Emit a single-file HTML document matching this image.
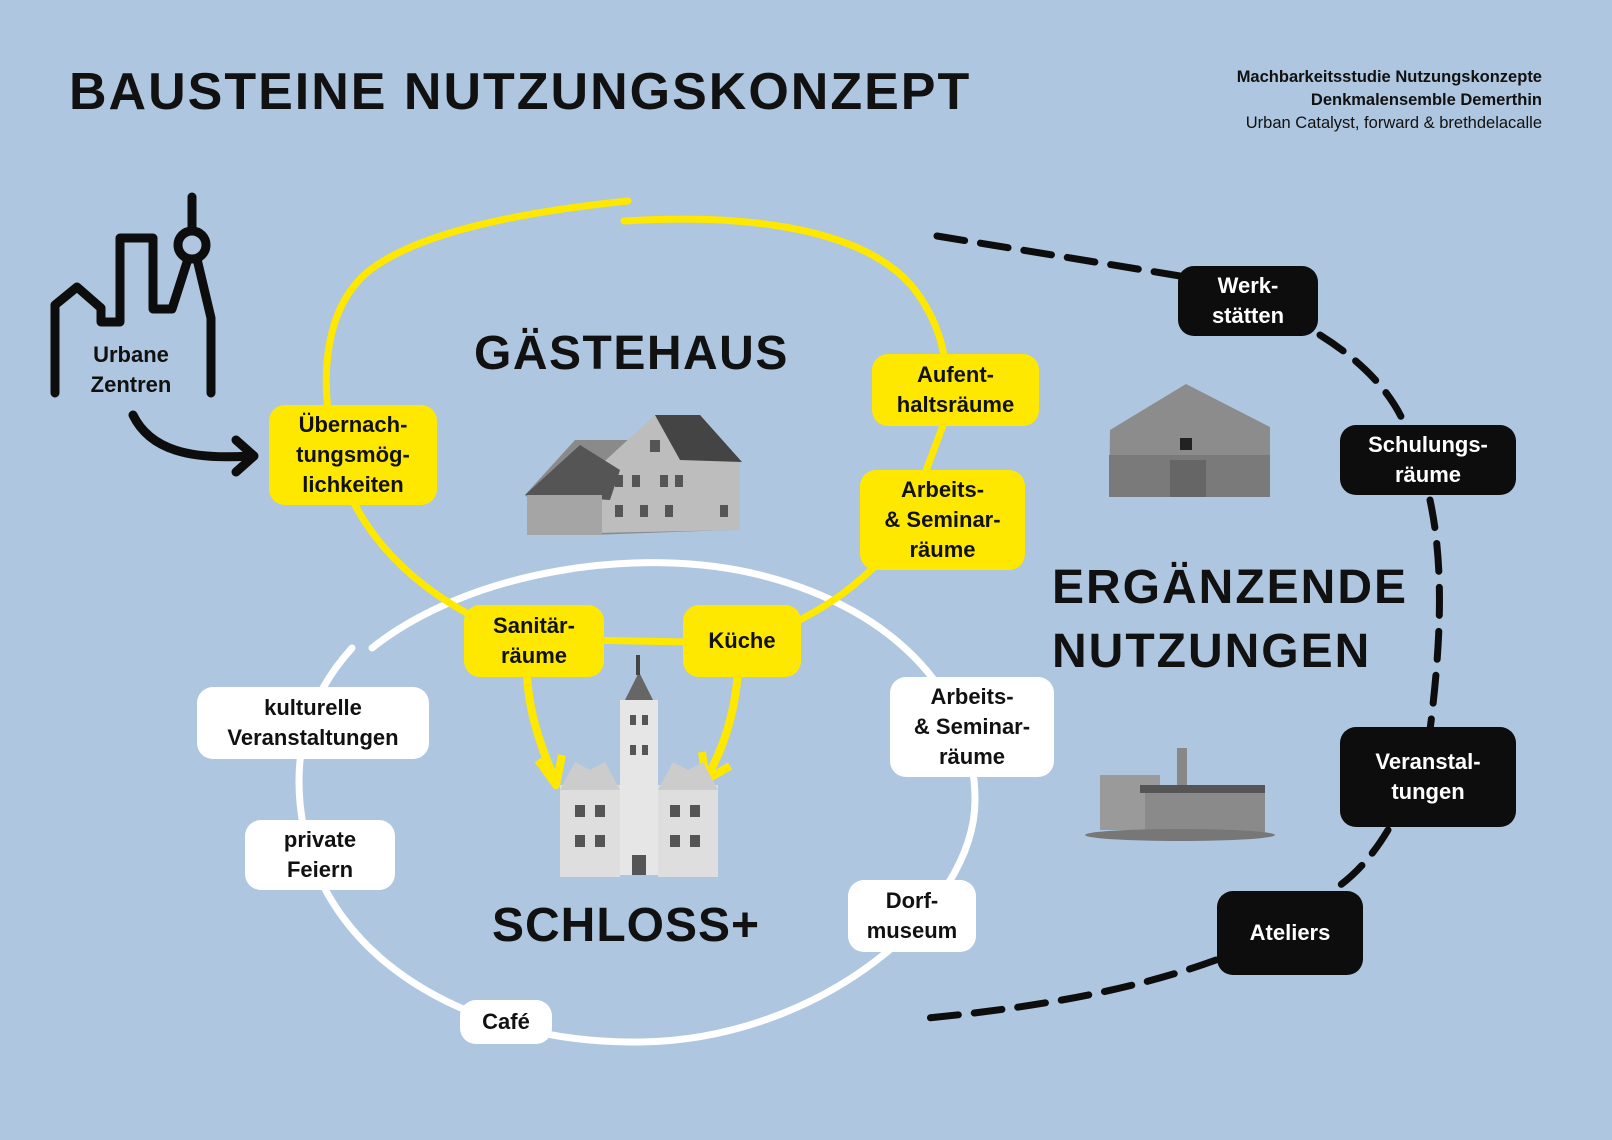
<!DOCTYPE html>
<html><head><meta charset="utf-8"><style>
html,body{margin:0;padding:0}
body{width:1612px;height:1140px;background:#aec6df;position:relative;overflow:hidden;font-family:"Liberation Sans",sans-serif}
.t{position:absolute;font-weight:bold;color:#111}
.box{position:absolute;border-radius:16px;font-weight:bold;font-size:22px;line-height:30px;text-align:center;display:flex;align-items:center;justify-content:center;color:#111}
.y{background:#ffe800}
.w{background:#fff}
.k{background:#0d0d0d;color:#fff}
</style></head><body>
<svg width="1612" height="1140" style="position:absolute;left:0;top:0">
<path d="M372 648 C470 570 640 545 760 575 C900 610 975 700 975 800 C975 910 820 1040 640 1042 C470 1044 330 960 304 830 C290 760 305 700 352 648" fill="none" stroke="#fff" stroke-width="7" stroke-linecap="round"/>
<path d="M628 201 C520 212 420 232 370 270 C320 310 320 390 335 450 C350 520 400 580 480 620" fill="none" stroke="#ffe800" stroke-width="7" stroke-linecap="round"/>
<path d="M580 640 L690 642" fill="none" stroke="#ffe800" stroke-width="7"/>
<path d="M790 625 C830 605 860 585 900 540 L945 420 C950 370 945 330 915 290 C860 220 720 215 624 221" fill="none" stroke="#ffe800" stroke-width="7" stroke-linecap="round"/>
<path d="M527 672 C528 710 540 745 555 780" fill="none" stroke="#ffe800" stroke-width="8"/>
<path d="M538 760 L556 785 L562 755" fill="none" stroke="#ffe800" stroke-width="8" stroke-linejoin="round"/>
<path d="M738 672 C735 710 725 745 708 775" fill="none" stroke="#ffe800" stroke-width="8"/>
<path d="M702 752 L706 780 L730 766" fill="none" stroke="#ffe800" stroke-width="8" stroke-linejoin="round"/>
<path d="M937 236 L1180 276 M1320 335 C1360 360 1390 390 1405 425 M1430 500 C1445 570 1440 650 1430 730 M1388 830 C1370 860 1350 880 1330 892 M1216 960 C1120 995 1010 1010 928 1018" fill="none" stroke="#0d0d0d" stroke-width="7" stroke-dasharray="28 16" stroke-linecap="round"/>
<g fill="none" stroke="#0d0d0d" stroke-width="9" stroke-linecap="round" stroke-linejoin="round">
<path d="M55 393 L55 305 L77 287 L101 308 L101 322 L120 322 L120 238 L153 238 L153 309 L172 309 L188 259"/>
<circle cx="192" cy="245" r="14"/>
<path d="M192 231 L192 197"/>
<path d="M197 259 L211 318 L211 393"/>
<path d="M133 415 C150 450 190 460 250 456"/>
<path d="M236 440 L254 456 L236 472"/>
</g>
<g>
<polygon points="525,495 575,440 638,440 655,415 700,415 740,462 730,470 730,530 590,535 585,500 530,500" fill="#8a8a8a"/>
<polygon points="595,470 655,415 700,415 740,462 740,530 595,533" fill="#bdbdbd"/>
<polygon points="525,495 580,445 620,470 610,500" fill="#555"/>
<rect x="527" y="495" width="75" height="40" fill="#a5a5a5"/>
<polygon points="655,415 700,415 742,462 680,460" fill="#444"/>
<g fill="#555"><rect x="615" y="475" width="8" height="12"/><rect x="632" y="475" width="8" height="12"/><rect x="660" y="475" width="8" height="12"/><rect x="675" y="475" width="8" height="12"/><rect x="615" y="505" width="8" height="12"/><rect x="640" y="505" width="8" height="12"/><rect x="665" y="505" width="8" height="12"/><rect x="720" y="505" width="8" height="12"/><rect x="650" y="440" width="10" height="12"/></g>
</g>
<g>
<polygon points="1110,430 1186,384 1270,427 1270,497 1109,497" fill="#8c8c8c"/>
<rect x="1109" y="455" width="161" height="42" fill="#7a7a7a"/>
<rect x="1180" y="438" width="12" height="12" fill="#222"/>
<rect x="1170" y="460" width="36" height="37" fill="#666"/>
</g>
<g>
<rect x="1177" y="748" width="10" height="40" fill="#888"/>
<rect x="1100" y="775" width="60" height="55" fill="#9a9a9a"/>
<rect x="1145" y="790" width="120" height="42" fill="#8a8a8a"/>
<rect x="1140" y="785" width="125" height="8" fill="#555"/>
<ellipse cx="1180" cy="835" rx="95" ry="6" fill="#777"/>
</g>
<g>
<rect x="620" y="700" width="38" height="175" fill="#e6e6e6"/>
<polygon points="625,700 639,672 653,700" fill="#666"/>
<rect x="636" y="655" width="4" height="20" fill="#444"/>
<rect x="560" y="785" width="60" height="92" fill="#dedede"/>
<rect x="658" y="785" width="60" height="92" fill="#dedede"/>
<polygon points="560,790 575,762 590,770 605,762 620,790" fill="#ccc"/>
<polygon points="658,790 673,762 688,770 703,762 718,790" fill="#ccc"/>
<g fill="#555"><rect x="575" y="805" width="10" height="12"/><rect x="595" y="805" width="10" height="12"/><rect x="575" y="835" width="10" height="12"/><rect x="595" y="835" width="10" height="12"/><rect x="670" y="805" width="10" height="12"/><rect x="690" y="805" width="10" height="12"/><rect x="670" y="835" width="10" height="12"/><rect x="690" y="835" width="10" height="12"/><rect x="630" y="715" width="6" height="10"/><rect x="642" y="715" width="6" height="10"/><rect x="630" y="745" width="6" height="10"/><rect x="642" y="745" width="6" height="10"/><rect x="632" y="855" width="14" height="20"/></g>
</g>
</svg>

<div class="t" style="left:69px;top:62px;font-size:52px;letter-spacing:2px">BAUSTEINE NUTZUNGSKONZEPT</div>
<div class="t" style="right:70px;top:66px;font-size:16.5px;line-height:23px;text-align:right">Machbarkeitsstudie Nutzungskonzepte<br>Denkmalensemble Demerthin<br><span style="font-weight:normal">Urban Catalyst, forward &amp; brethdelacalle</span></div>
<div class="t" style="left:474px;top:326px;font-size:48px;letter-spacing:1.5px">GÄSTEHAUS</div>
<div class="t" style="left:492px;top:898px;font-size:48px;letter-spacing:1px">SCHLOSS+</div>
<div class="t" style="left:1052px;top:556px;font-size:48px;line-height:64px;letter-spacing:2px">ERGÄNZENDE<br>NUTZUNGEN</div>
<div class="t" style="left:80px;top:340px;width:102px;text-align:center;font-size:22px;line-height:30px">Urbane<br>Zentren</div>

<div class="box y" style="left:269px;top:405px;width:168px;height:100px">Übernach-<br>tungsmög-<br>lichkeiten</div>
<div class="box y" style="left:872px;top:354px;width:167px;height:72px">Aufent-<br>haltsräume</div>
<div class="box y" style="left:860px;top:470px;width:165px;height:100px">Arbeits-<br>&amp; Seminar-<br>räume</div>
<div class="box y" style="left:464px;top:605px;width:140px;height:72px">Sanitär-<br>räume</div>
<div class="box y" style="left:683px;top:605px;width:118px;height:72px">Küche</div>

<div class="box w" style="left:197px;top:687px;width:232px;height:72px">kulturelle<br>Veranstaltungen</div>
<div class="box w" style="left:245px;top:820px;width:150px;height:70px">private<br>Feiern</div>
<div class="box w" style="left:890px;top:677px;width:164px;height:100px">Arbeits-<br>&amp; Seminar-<br>räume</div>
<div class="box w" style="left:848px;top:880px;width:128px;height:72px">Dorf-<br>museum</div>
<div class="box w" style="left:460px;top:1000px;width:92px;height:44px">Café</div>

<div class="box k" style="left:1178px;top:266px;width:140px;height:70px">Werk-<br>stätten</div>
<div class="box k" style="left:1340px;top:425px;width:176px;height:70px">Schulungs-<br>räume</div>
<div class="box k" style="left:1340px;top:727px;width:176px;height:100px">Veranstal-<br>tungen</div>
<div class="box k" style="left:1217px;top:891px;width:146px;height:84px">Ateliers</div>
</body></html>
